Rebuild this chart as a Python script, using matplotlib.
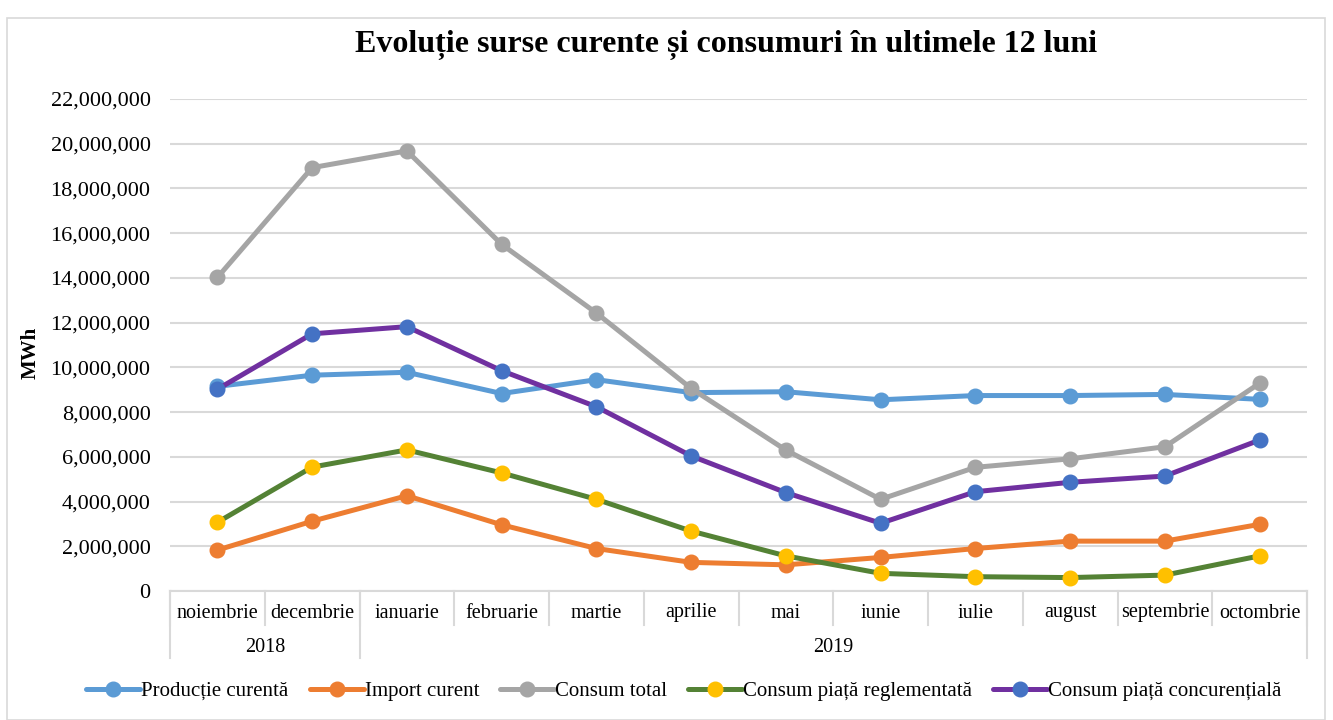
import matplotlib
matplotlib.use('Agg')
import matplotlib.pyplot as plt
from matplotlib.ticker import FuncFormatter
from matplotlib.patches import Rectangle

plt.rcParams['font.family'] = ['Liberation Serif', 'DejaVu Serif']

luni = ['noiembrie', 'decembrie', 'ianuarie', 'februarie', 'martie', 'aprilie',
        'mai', 'iunie', 'iulie', 'august', 'septembrie', 'octombrie']
ani = ['2018', '2019']
ani_nr_luni = [2, 10]

productie = [9150000, 9650000, 9780000, 8830000, 9450000, 8870000,
             8910000, 8550000, 8740000, 8740000, 8790000, 8570000]
import_curent = [1830000, 3120000, 4260000, 2960000, 1900000, 1280000,
                 1170000, 1500000, 1900000, 2230000, 2230000, 2980000]
consum_total = [14020000, 18930000, 19680000, 15500000, 12430000, 9060000,
                6300000, 4100000, 5530000, 5910000, 6450000, 9290000]
consum_reglementat = [3070000, 5540000, 6310000, 5280000, 4100000, 2680000,
                      1570000, 790000, 640000, 600000, 710000, 1570000]
consum_concurential = [9020000, 11500000, 11820000, 9850000, 8240000, 6040000,
                       4400000, 3030000, 4440000, 4860000, 5140000, 6750000]

serii = [
    ('Producție curentă', productie, '#5B9BD5', '#5B9BD5'),
    ('Import curent', import_curent, '#ED7D31', '#ED7D31'),
    ('Consum total', consum_total, '#A5A5A5', '#A5A5A5'),
    ('Consum piață reglementată', consum_reglementat, '#548235', '#FFC000'),
    ('Consum piață concurențială', consum_concurential, '#7030A0', '#4472C4'),
]

fig = plt.figure(figsize=(13.33, 7.2), dpi=100)
ax = fig.add_axes([170 / 1333, 1 - 591 / 720, (1307 - 170) / 1333, (591 - 99) / 720])

# chenarul graficului
fig.patches.append(Rectangle((7 / 1333, 0), 1318 / 1333, 1 - 18 / 720,
                             transform=fig.transFigure, fill=False,
                             edgecolor='#d9d9d9', linewidth=1.2))

x = list(range(len(luni)))
for nume, valori, culoare, marker_culoare in serii:
    ax.plot(x, valori, color=culoare, linewidth=3.6, marker='o', markersize=10.5,
            markerfacecolor=marker_culoare, markeredgecolor=marker_culoare,
            label=nume, solid_capstyle='round', solid_joinstyle='round', zorder=3)

ax.set_xlim(-0.5, len(luni) - 0.5)
ax.set_ylim(0, 22000000)
ax.set_yticks(range(0, 22000001, 2000000))
ax.yaxis.set_major_formatter(FuncFormatter(lambda v, p: f'{v:,.0f}'))
ax.grid(axis='y', color='#d9d9d9', linewidth=1.5)
ax.set_axisbelow(True)
for s in ['top', 'right', 'left']:
    ax.spines[s].set_visible(False)
ax.spines['bottom'].set_color('#d9d9d9')
ax.spines['bottom'].set_linewidth(1.5)
ax.tick_params(axis='y', length=0, labelsize=16, pad=14)
ax.set_xticks([])

# axa pe doua niveluri (luni / ani)
h = 492.0
for i in range(len(luni) + 1):
    xb = i / len(luni)
    ax.plot([xb, xb], [0, -34 / h], transform=ax.transAxes, color='#d9d9d9',
            linewidth=1.5, clip_on=False)
for i, luna in enumerate(luni):
    ax.text((i + 0.5) / len(luni), -22 / h, luna, transform=ax.transAxes,
            ha='center', va='center', fontsize=14.5)
start = 0
for an, n in zip(ani, ani_nr_luni):
    ax.plot([start / len(luni)] * 2, [0, -67 / h], transform=ax.transAxes,
            color='#d9d9d9', linewidth=1.5, clip_on=False)
    ax.text((start + n / 2) / len(luni), -56 / h, an, transform=ax.transAxes,
            ha='center', va='center', fontsize=14.5)
    start += n
ax.plot([1, 1], [0, -67 / h], transform=ax.transAxes, color='#d9d9d9',
        linewidth=1.5, clip_on=False)

fig.text(31 / 1333, 1 - 353 / 720, 'MWh', rotation=90, ha='center', va='center',
         fontsize=15, fontweight='bold')
fig.text(726 / 1333, 1 - 45 / 720, 'Evoluție surse curente și consumuri în ultimele 12 luni',
         ha='center', va='center', fontsize=23, fontweight='bold')

fig.legend(loc='center', bbox_to_anchor=(684 / 1333, 1 - 691 / 720), ncol=5,
           frameon=False, fontsize=15, handlelength=2.6, handletextpad=0.05,
           columnspacing=1.0)

fig.savefig('out.png', dpi=100)
